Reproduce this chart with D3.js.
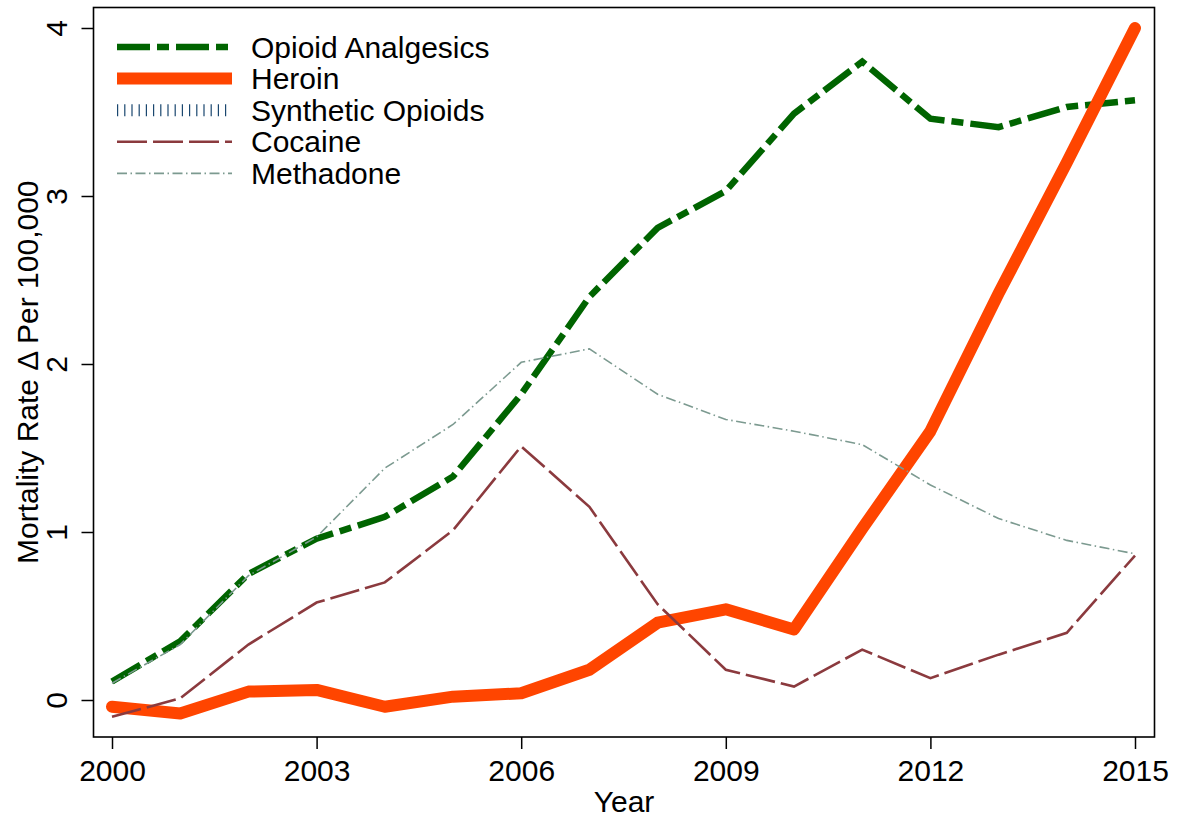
<!DOCTYPE html>
<html>
<head>
<meta charset="utf-8">
<script src="https://cdn.jsdelivr.net/npm/d3@7"></script>
<style>
  html, body { margin: 0; padding: 0; background: #fff; }
  svg { display: block; }
  text { font-family: "Liberation Sans", Arial, Helvetica, sans-serif; fill: #000; }
</style>
</head>
<body>
<svg id="chart" width="1179" height="821"></svg>
<script>
// Change in overdose mortality rate per 100,000, by drug type
const years = [2000, 2001, 2002, 2003, 2004, 2005, 2006, 2007,
               2008, 2009, 2010, 2011, 2012, 2013, 2014, 2015];

const opioidAnalgesics = [0.11, 0.35, 0.75, 0.96, 1.09, 1.33, 1.82, 2.40,
                          2.81, 3.03, 3.49, 3.80, 3.46, 3.41, 3.53, 3.57];
const heroin           = [-0.04, -0.08, 0.05, 0.06, -0.04, 0.02, 0.04, 0.18,
                          0.46, 0.54, 0.42, 1.02, 1.60, 2.42, 3.20, 4.00];
const syntheticOpioids = []; // no plotted values
const cocaine          = [-0.10, 0.01, 0.33, 0.58, 0.70, 1.01, 1.51, 1.15,
                          0.57, 0.18, 0.08, 0.30, 0.13, 0.27, 0.40, 0.86];
const methadone        = [0.10, 0.33, 0.74, 0.97, 1.38, 1.64, 2.01, 2.09,
                          1.82, 1.67, 1.60, 1.52, 1.28, 1.08, 0.95, 0.87];

const xTicks = [2000, 2003, 2006, 2009, 2012, 2015];
const yTicks = [0, 1, 2, 3, 4];

const seriesNames = ["Opioid Analgesics", "Heroin", "Synthetic Opioids", "Cocaine", "Methadone"];

const series = [
  { name: seriesNames[0], values: opioidAnalgesics, color: "#006400", width: 6.5, dash: "33,7,12,7", cap: "butt", join: "miter" },
  { name: seriesNames[1], values: heroin, color: "#ff4500", width: 12, dash: null, cap: "round", join: "round" },
  { name: seriesNames[2], values: syntheticOpioids, color: "#1a476f", width: 1.2, dash: null, cap: "butt", join: "miter", ticks: true },
  { name: seriesNames[3], values: cocaine, color: "#8b3a3e", width: 2.6, dash: "30,6", cap: "butt", join: "miter" },
  { name: seriesNames[4], values: methadone, color: "#7c9a90", width: 1.6, dash: "10,3.5,1.5,3.5", cap: "butt", join: "miter" }
];

const svg = d3.select("#chart");

// plot region (frame edges)
const frame = { left: 93.5, right: 1154.5, top: 7.5, bottom: 737 };

const x = d3.scaleLinear().domain([2000, 2015]).range([112, 1135]);
const y = d3.scaleLinear().domain([0, 4]).range([700, 28]);

// frame
svg.append("rect")
  .attr("x", frame.left).attr("y", frame.top)
  .attr("width", frame.right - frame.left)
  .attr("height", frame.bottom - frame.top)
  .attr("fill", "none").attr("stroke", "#000").attr("stroke-width", 1.6);

// x axis
const xAxis = d3.axisBottom(x).tickValues(xTicks).tickFormat(d3.format("d"))
  .tickSize(12).tickPadding(8);
const gx = svg.append("g").attr("transform", `translate(0,${frame.bottom})`).call(xAxis);
gx.select(".domain").remove();
gx.selectAll(".tick line").attr("stroke", "#000").attr("stroke-width", 1.5);
gx.selectAll(".tick text")
  .attr("font-size", 30).attr("font-family", "Liberation Sans, Arial, sans-serif")
  .attr("fill", "#000").attr("dy", null).attr("y", 44);

// y axis
const yAxis = d3.axisLeft(y).tickValues(yTicks).tickFormat(d3.format("d"))
  .tickSize(12).tickPadding(8);
const gy = svg.append("g").attr("transform", `translate(${frame.left},0)`).call(yAxis);
gy.select(".domain").remove();
gy.selectAll(".tick line").attr("stroke", "#000").attr("stroke-width", 1.5);
gy.selectAll(".tick text")
  .attr("font-size", 30).attr("font-family", "Liberation Sans, Arial, sans-serif")
  .attr("fill", "#000")
  .attr("x", null).attr("dy", null)
  .attr("text-anchor", "middle")
  .attr("transform", "translate(-27,0) rotate(-90)");

// axis titles
svg.append("text")
  .attr("x", (frame.left + frame.right) / 2).attr("y", 812)
  .attr("text-anchor", "middle").attr("font-size", 30)
  .text("Year");

svg.append("text")
  .attr("transform", `translate(38,${(frame.top + frame.bottom) / 2}) rotate(-90)`)
  .attr("text-anchor", "middle").attr("font-size", 30)
  .text("Mortality Rate \u0394 Per 100,000");

// series lines
const line = d3.line()
  .x((d, i) => x(years[i]))
  .y(d => y(d));

const plot = svg.append("g");
series.forEach(s => {
  if (!s.values.length) return;
  plot.append("path")
    .datum(s.values)
    .attr("d", line)
    .attr("fill", "none")
    .attr("stroke", s.color)
    .attr("stroke-width", s.width)
    .attr("stroke-dasharray", s.dash)
    .attr("stroke-linecap", s.cap)
    .attr("stroke-linejoin", s.join);
});

// legend
const legend = svg.append("g");
const legX0 = 117, legX1 = 232, legY0 = 47, legStep = 31.6;
series.forEach((s, i) => {
  const yy = legY0 + i * legStep;
  if (s.ticks) {
    legend.append("line")
      .attr("x1", legX0).attr("x2", legX1).attr("y1", yy).attr("y2", yy)
      .attr("stroke", s.color).attr("stroke-width", 12)
      .attr("stroke-dasharray", "1.2,6");
  } else {
    legend.append("line")
      .attr("x1", legX0).attr("x2", legX1).attr("y1", yy).attr("y2", yy)
      .attr("stroke", s.color).attr("stroke-width", s.width)
      .attr("stroke-dasharray", s.dash)
      .attr("stroke-linecap", "butt");
  }
  legend.append("text")
    .attr("x", 251).attr("y", yy + 10.5)
    .attr("font-size", 30)
    .text(s.name);
});
</script>
</body>
</html>
